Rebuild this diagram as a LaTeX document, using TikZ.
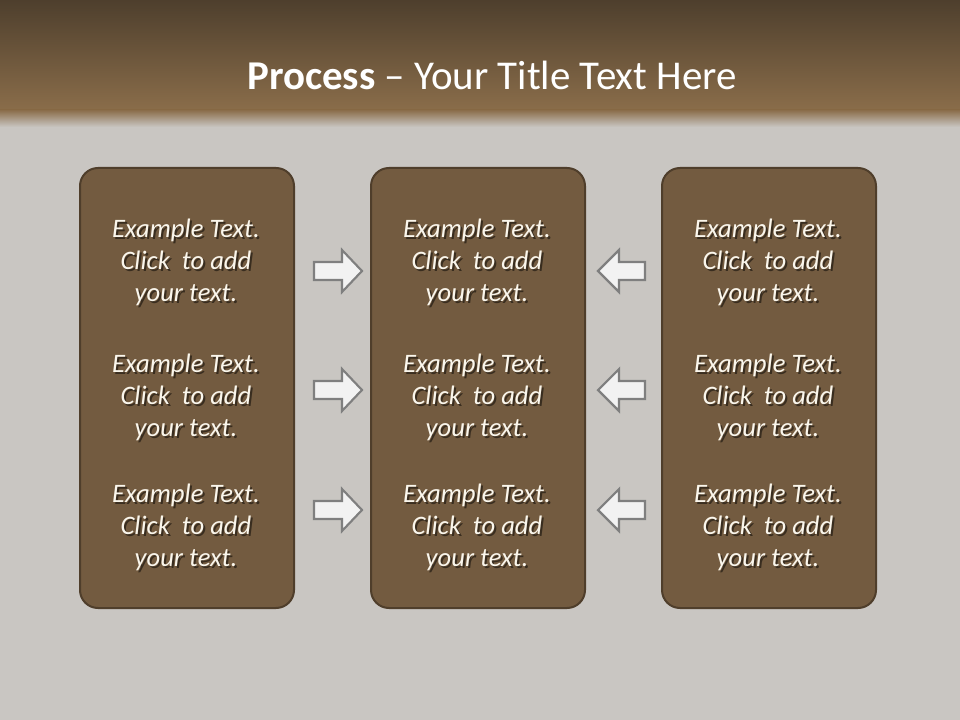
\documentclass[tikz,border=0pt]{standalone}
\usepackage{fontspec}
\setmainfont{Carlito}
\usetikzlibrary{positioning}
\definecolor{bandtop}{HTML}{4E3F2D}
\definecolor{bandbot}{HTML}{8A6D4A}
\definecolor{slidegray}{HTML}{C9C6C2}
\definecolor{boxfill}{HTML}{735B40}
\definecolor{boxline}{HTML}{4F3E2B}
\definecolor{txt}{HTML}{FAF6EC}
\definecolor{arrline}{HTML}{7F7F7F}
\definecolor{arrfill}{HTML}{F2F2F2}
\begin{document}
\begin{tikzpicture}[x=0.75pt,y=-0.75pt,
  panel/.style={draw=boxline,line width=1.5pt,fill=boxfill,rounded corners=13.5pt,minimum width=160.5pt,minimum height=330pt},
  blurb/.style={font=\fontsize{20}{24}\selectfont\itshape,text=txt,align=center,inner sep=0pt},
  blockarrow/.style={draw=arrline,fill=arrfill,line width=1.6pt,line join=miter},
  title/.style={font=\fontsize{30.7}{36}\selectfont,text=white}]
\useasboundingbox (0,0) rectangle (960,720);
% slide background
\fill[slidegray] (0,0) rectangle (960,720);
\shade[top color=bandtop,bottom color=bandbot] (0,0) rectangle (960,110);
\shade[top color=bandbot,bottom color=slidegray] (0,110) rectangle (960,127);
\node[title] (title) at (492,75) {\textbf{Process} -- Your Title Text Here};
% three columns of boxes
\foreach \col/\cx in {L/187,M/478,R/769} {
  \node[panel] (\col) at (\cx,388) {};
  \foreach \row/\cy in {1/261,2/396,3/526} {
    \node[blurb,text=black,opacity=.5,xshift=1.5pt,yshift=-1.5pt] at (\cx-1,\cy+1) {Example Text.\\Click\ \ to add\\your text.};
    \node[blurb] (\col\row) at (\cx-1,\cy+1) {Example Text.\\Click\ \ to add\\your text.};
  }
}
% arrows into the middle column
\foreach \cy in {271,390,510} {
  \draw[blockarrow] (314,\cy-9) -- (342,\cy-9) -- (342,\cy-21) -- (362,\cy) -- (342,\cy+21) -- (342,\cy+9) -- (314,\cy+9) -- cycle;
  \draw[blockarrow] (645,\cy-9) -- (619,\cy-9) -- (619,\cy-21) -- (598,\cy) -- (619,\cy+21) -- (619,\cy+9) -- (645,\cy+9) -- cycle;
}
\end{tikzpicture}
\end{document}
